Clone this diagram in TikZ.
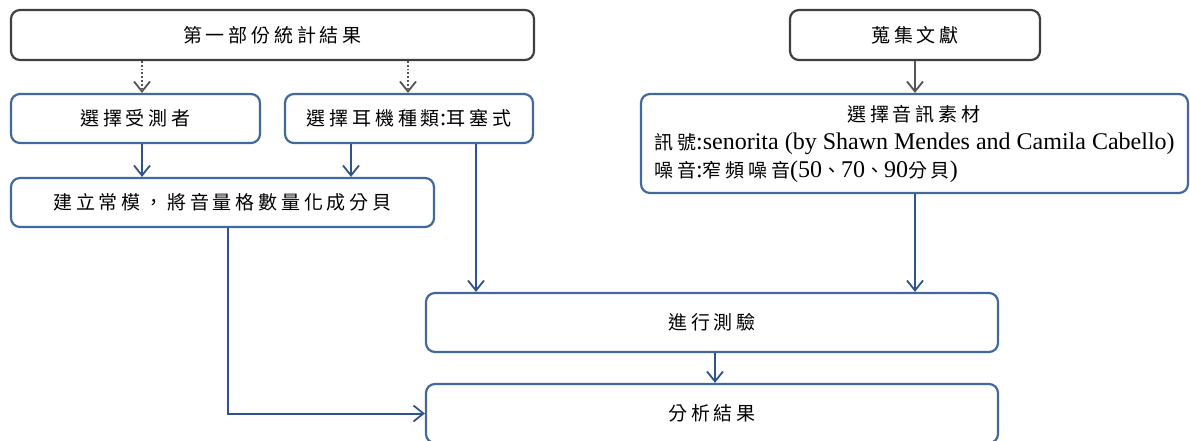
\documentclass[tikz,border=0pt]{standalone}
\usepackage{fontspec}
\setmainfont{Liberation Serif}
\newfontfamily\cjkfam[LetterSpace=20]{Noto Sans CJK TC}
\newcommand\zh[1]{{\cjkfam\fontsize{19}{28}\selectfont #1}}
\usetikzlibrary{arrows.meta}
\definecolor{boxblue}{RGB}{65,105,155}
\definecolor{arrblue}{RGB}{47,84,140}
\definecolor{boxgray}{RGB}{64,64,64}
\definecolor{arrgray}{RGB}{85,85,85}
\tikzset{
  base/.style={rounded corners=9pt, line width=2.2pt, inner sep=0pt,
    font=\fontsize{24}{28}\selectfont, text=black},
  graybox/.style={base, draw=boxgray},
  bluebox/.style={base, draw=boxblue},
  tip/.style={-{Straight Barb[length=10pt,width=16pt,line width=1.8pt]}},
  bluearr/.style={tip, draw=arrblue, line width=2pt},
  grayarr/.style={tip, draw=arrgray, line width=2pt},
  dotarr/.style={tip, draw=arrgray, line width=1.8pt, dotted},
}
\begin{document}
\begin{tikzpicture}[x=1pt,y=-1pt]
\useasboundingbox (0,0) rectangle (1190,441);
\node[graybox, minimum width=523pt, minimum height=50pt] (top1) at (272.5,35) {\zh{第一部份統計結果}};
\node[graybox, minimum width=250pt, minimum height=50pt] (top2) at (915,35) {\zh{蒐集文獻}};
\node[bluebox, minimum width=249pt, minimum height=49pt] (s1) at (135.5,118.5) {\zh{選擇受測者}};
\node[bluebox, minimum width=248pt, minimum height=49pt] (s2) at (409,118.5) {\zh{選擇耳機種類}:\zh{耳塞式}};
\node[bluebox, minimum width=423pt, minimum height=49pt] (s3) at (222.5,202.5) {\zh{建立常模，將音量格數量化成分貝}};
\node[bluebox, minimum width=547pt, minimum height=99pt, align=left] (audio) at (914.5,143.5)
  {\makebox[519pt][c]{\zh{選擇音訊素材}}\\
   \zh{訊號}:senorita (by Shawn Mendes and Camila Cabello)\\
   \zh{噪音}:\zh{窄頻噪音}(50\zh{、}70\zh{、}90\zh{分貝})\hfill\null};
\node[bluebox, minimum width=572pt, minimum height=59pt] (test) at (712,322.5) {\zh{進行測驗}};
\node[bluebox, minimum width=572pt, minimum height=59pt] (res) at (712,413.5) {\zh{分析結果}};
\draw[dotarr] (142,0 |- top1.south) -- (142,0 |- s1.north);
\draw[dotarr] (408,0 |- top1.south) -- (408,0 |- s2.north);
\draw[bluearr] (142,0 |- s1.south) -- (142,0 |- s3.north);
\draw[bluearr] (351,0 |- s2.south) -- (351,0 |- s3.north);
\draw[bluearr] (476,0 |- s2.south) -- (476,0 |- test.north);
\draw[grayarr] (top2.south) -- (915,0 |- audio.north);
\draw[bluearr] (915,0 |- audio.south) -- (915,0 |- test.north);
\draw[bluearr] (715,0 |- test.south) -- (715,0 |- res.north);
\draw[bluearr] (228,0 |- s3.south) |- (res.west);
\end{tikzpicture}
\end{document}
